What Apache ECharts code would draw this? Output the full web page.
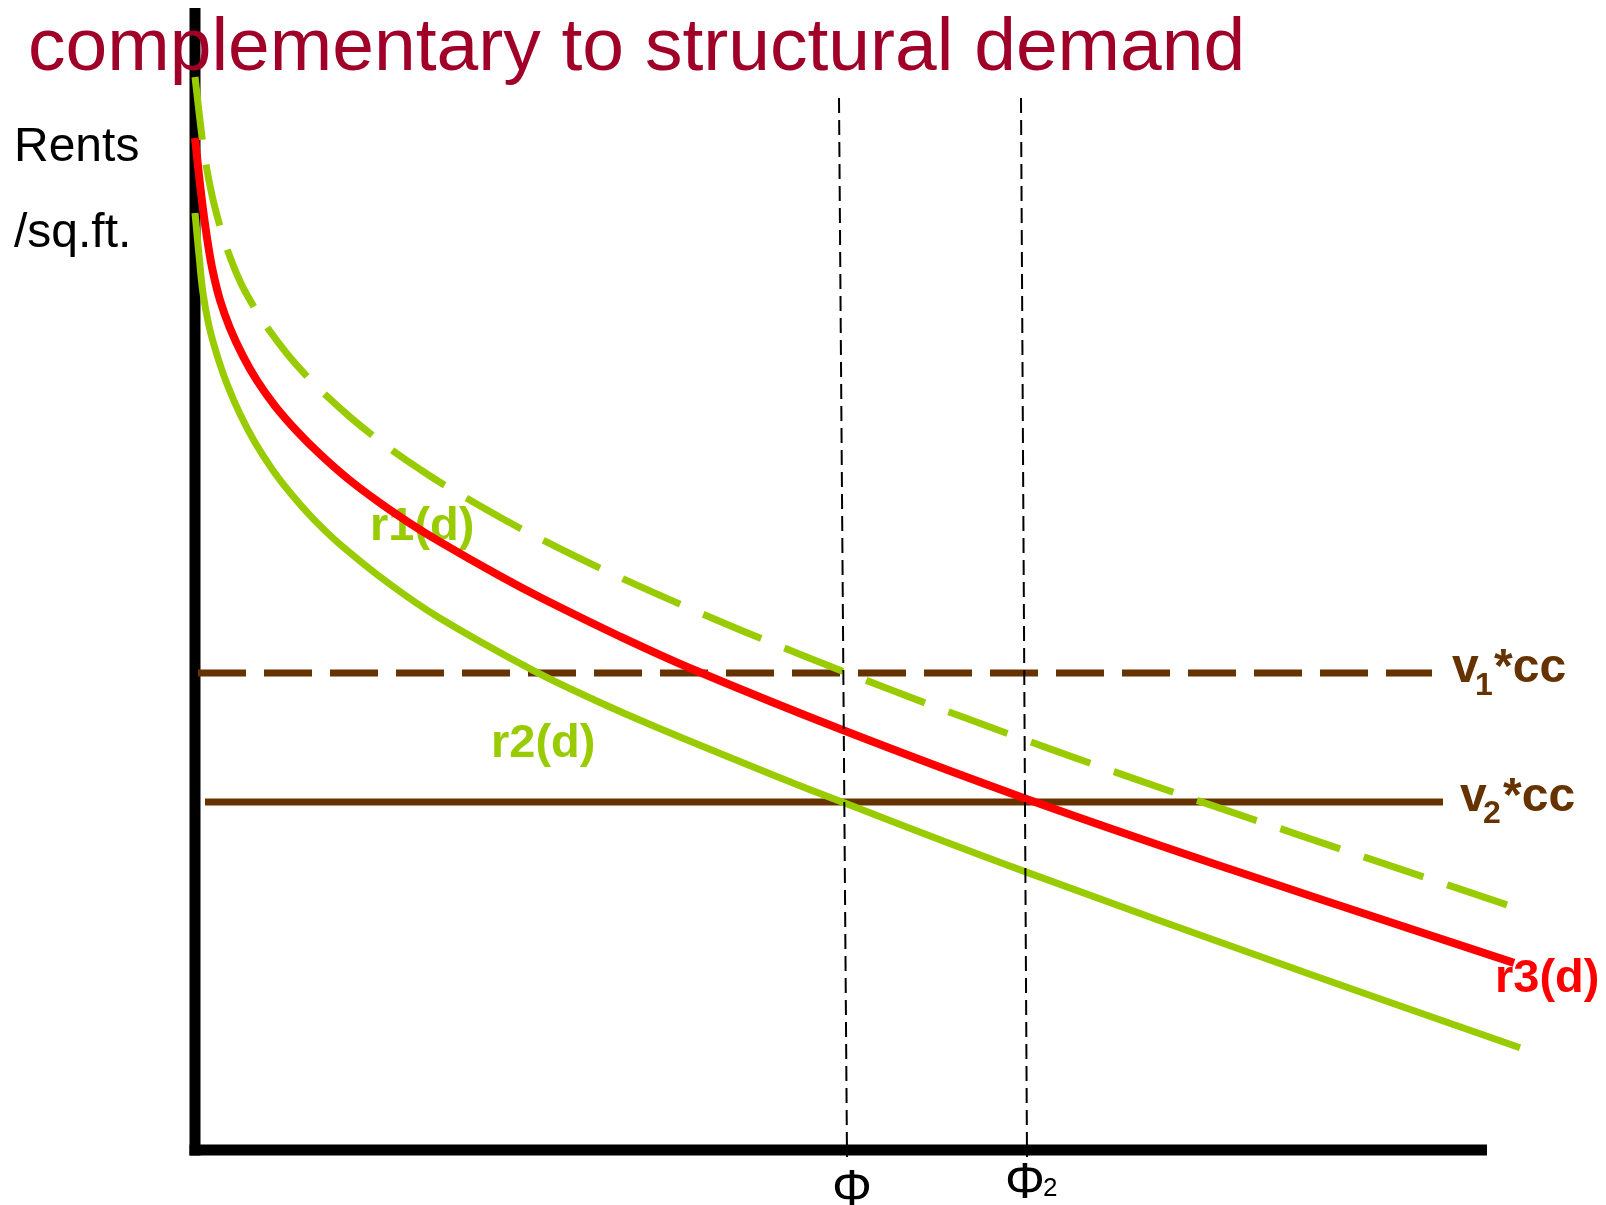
<!DOCTYPE html>
<html><head><meta charset="utf-8">
<script src="https://cdn.jsdelivr.net/npm/echarts/dist/echarts.min.js"></script>
<style>html,body{margin:0;padding:0;background:#fff}#c{width:1606px;height:1205px}</style>
</head><body><div id="c"></div>
<script>
// distance (x) and rent (y) values
const r1Upper = [[0,107.3],[0.7,101.28],[1.0,99.12],[1.7,95.48],[2.5,92.36],[3.2,90.12],[4.5,86.87],[5.8,84.46],[7.3,82.14],[9.2,79.63],[11.2,77.37],[13.2,75.37],[15.5,73.3],[17.7,71.5],[19.8,69.92],[22.5,68.06],[25.0,66.46],[30.5,63.27],[35.0,60.88],[40.5,58.19],[48.5,54.59],[56.5,51.19],[64.7,47.91],[73.0,44.71],[81.4,41.6],[89.6,38.65],[97.9,35.75],[106.2,32.93],[114.5,30.11],[123.0,27.26],[131.3,24.48]];
const r3Red = [[0,101.2],[0.4,97.48],[0.8,94.08],[1.3,90.58],[1.8,87.78],[2.5,84.98],[3.5,82.18],[4.8,79.38],[6.2,76.93],[8.0,74.41],[10.2,71.88],[12.5,69.58],[15.2,67.2],[18.3,64.85],[21.5,62.67],[24.5,60.81],[30.5,57.39],[34.5,55.27],[42.5,51.35],[50.0,47.97],[64.7,42.02],[82.8,35.23],[103.7,28.02],[131.9,18.71]];
const r2Lower = [[0,93.7],[0.4,89.5],[0.8,85.7],[1.4,82.4],[2.2,79.5],[3.2,76.6],[4.5,73.6],[6.0,70.75],[7.8,67.96],[9.7,65.49],[11.8,63.14],[14.5,60.57],[19.5,56.57],[24.5,53.17],[33.8,47.96],[40.0,44.98],[45.8,42.43],[57.3,37.71],[64.7,34.79],[82.8,27.91],[111.5,17.58],[132.5,10.23]];
const v1cc = [[0.3,47.7],[123.7,47.7]];
const v2cc = [[1.0,34.8],[124.8,34.8]];
const phi1 = [[64.4,105.2],[65.2,-0.7]];
const phi2 = [[82.6,105.2],[83.2,-0.7]];
const xAxisLine = [[-0.55,0],[129.2,0]];
const yAxisLine = [[0,-0.55],[0,114.2]];
const xRange = [0, 140];
const yRange = [-1, 114.2];

const GREEN = '#99cc00', RED = '#ff0000', BROWN = '#663300', TITLE = '#a00028';
const chart = echarts.init(document.getElementById('c'), null, {renderer:'canvas'});
function line(data, color, width, type, z, smooth){
  return {type:'line', data, showSymbol:false, symbol:'none', clip:false, smooth:smooth||false,
    silent:true, z, lineStyle:{color, width, type, cap:'butt'}};
}
const font = (w,s)=> w+' '+s+'px "Liberation Sans", Arial, Helvetica, sans-serif';
function txt(text, x, y, size, color, weight, align, z){
  return {type:'text', x, y, z: z||10, style:{text, fill:color, font:font(weight||'normal', size), align:align||'left', verticalAlign:'middle'}};
}
chart.setOption({
  animation:false,
  backgroundColor:'#ffffff',
  grid:{left:195, top:8, width:1400, height:1152, containLabel:false},
  xAxis:{type:'value', min:xRange[0], max:xRange[1], axisLine:{show:false}, axisTick:{show:false}, axisLabel:{show:false}, splitLine:{show:false}},
  yAxis:{type:'value', min:yRange[0], max:yRange[1], axisLine:{show:false}, axisTick:{show:false}, axisLabel:{show:false}, splitLine:{show:false}},
  series:[
    line(xAxisLine, '#000', 11, 'solid', 1),
    line(yAxisLine, '#000', 11, 'solid', 1),
    line(v1cc, BROWN, 7, [48,18], 2),
    line(v2cc, BROWN, 7, 'solid', 2),
    line(r2Lower, GREEN, 7, 'solid', 3, 0.4),
    line(r1Upper, GREEN, 7, [63,25], 3, 0.4),
    line(r3Red, RED, 8, 'solid', 5, 0.4),
    line(phi1, '#000', 2, [15,7], 6),
    line(phi2, '#000', 2, [15,7], 6)
  ],
  graphic:[
    txt('complementary to structural demand', 28, 49, 75, TITLE),
    txt('Rents', 14, 148, 48, '#000'),
    txt('/sq.ft.', 14, 234, 48, '#000'),
    txt('r1(d)', 370, 527, 47, GREEN, 'bold', 'left', 1),
    txt('r2(d)', 491, 744, 47, GREEN, 'bold'),
    txt('r3(d)', 1495, 979, 47, RED, 'bold'),
    txt('v', 1452, 669, 48, BROWN, 'bold'),
    txt('1', 1475, 686, 32, BROWN, 'bold'),
    txt('*cc', 1494, 669, 48, BROWN, 'bold'),
    txt('v', 1460, 798, 48, BROWN, 'bold'),
    txt('2', 1483, 814, 32, BROWN, 'bold'),
    txt('*cc', 1503, 798, 48, BROWN, 'bold'),
    txt('Φ', 852, 1191, 50, '#000', 'normal', 'center'),
    txt('Φ', 1005, 1184, 50, '#000'),
    txt('2', 1043, 1189, 26, '#000')
  ]
});
</script></body></html>
